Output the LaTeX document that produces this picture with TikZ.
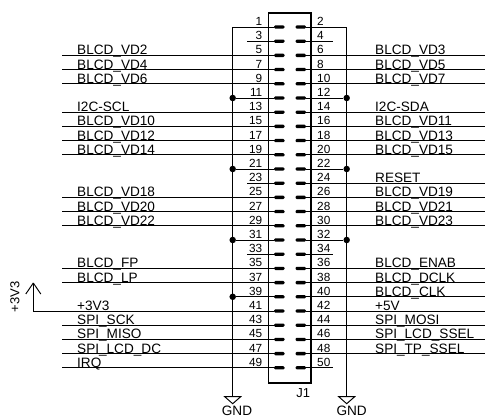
\documentclass[tikz,border=0pt]{standalone}
\usepackage{fontspec}
\setmainfont{Liberation Sans}
\tikzset{
  pad/.style={fill=black,rectangle,rounded corners=1.2pt,inner sep=0pt,minimum width=10.4pt,minimum height=3.3pt},
  numl/.style={anchor=base east,inner sep=0pt,yshift=-0.5pt,xshift=-0.5pt,font=\fontsize{11.8}{12}\selectfont},
  numr/.style={anchor=base west,inner sep=0pt,yshift=-0.5pt,font=\fontsize{11.8}{12}\selectfont},
  netname/.style={anchor=base west,inner sep=0pt,yshift=-0.5pt,font=\fontsize{13.6}{14}\selectfont},
  dot/.style={circle,fill=black,inner sep=0pt,minimum size=6.5pt},
  wire/.style={line width=0.95pt}
}
\begin{document}
\begin{tikzpicture}[x=1pt,y=-1pt]
      \useasboundingbox (0,0) rectangle (485,417);
      % pads and pin numbers
      \draw
        (279.3,27.0) node[pad] (p1){} (263,25.0) node[numl] (n1){1}
        (279.3,41.2) node[pad] (p3){} (263,39.2) node[numl] (n3){3}
        (279.3,55.4) node[pad] (p5){} (263,53.4) node[numl] (n5){5}
        (279.3,69.6) node[pad] (p7){} (263,67.6) node[numl] (n7){7}
        (279.3,83.8) node[pad] (p9){} (263,81.8) node[numl] (n9){9}
        (279.3,98.0) node[pad] (p11){} (263,96.0) node[numl] (n11){11}
        (279.3,112.2) node[pad] (p13){} (263,110.2) node[numl] (n13){13}
        (279.3,126.4) node[pad] (p15){} (263,124.4) node[numl] (n15){15}
        (279.3,140.6) node[pad] (p17){} (263,138.6) node[numl] (n17){17}
        (279.3,154.8) node[pad] (p19){} (263,152.8) node[numl] (n19){19}
        (279.3,169.0) node[pad] (p21){} (263,167.0) node[numl] (n21){21}
        (279.3,183.2) node[pad] (p23){} (263,181.2) node[numl] (n23){23}
        (279.3,197.4) node[pad] (p25){} (263,195.4) node[numl] (n25){25}
        (279.3,211.6) node[pad] (p27){} (263,209.6) node[numl] (n27){27}
        (279.3,225.8) node[pad] (p29){} (263,223.8) node[numl] (n29){29}
        (279.3,240.0) node[pad] (p31){} (263,238.0) node[numl] (n31){31}
        (279.3,254.2) node[pad] (p33){} (263,252.2) node[numl] (n33){33}
        (279.3,268.4) node[pad] (p35){} (263,266.4) node[numl] (n35){35}
        (279.3,282.6) node[pad] (p37){} (263,280.6) node[numl] (n37){37}
        (279.3,296.8) node[pad] (p39){} (263,294.8) node[numl] (n39){39}
        (279.3,311.0) node[pad] (p41){} (263,309.0) node[numl] (n41){41}
        (279.3,325.2) node[pad] (p43){} (263,323.2) node[numl] (n43){43}
        (279.3,339.4) node[pad] (p45){} (263,337.4) node[numl] (n45){45}
        (279.3,353.6) node[pad] (p47){} (263,351.6) node[numl] (n47){47}
        (279.3,367.8) node[pad] (p49){} (263,365.8) node[numl] (n49){49}
        (300.7,27.0) node[pad] (p2){} (317,25.0) node[numr] (n2){2}
        (300.7,41.2) node[pad] (p4){} (317,39.2) node[numr] (n4){4}
        (300.7,55.4) node[pad] (p6){} (317,53.4) node[numr] (n6){6}
        (300.7,69.6) node[pad] (p8){} (317,67.6) node[numr] (n8){8}
        (300.7,83.8) node[pad] (p10){} (317,81.8) node[numr] (n10){10}
        (300.7,98.0) node[pad] (p12){} (317,96.0) node[numr] (n12){12}
        (300.7,112.2) node[pad] (p14){} (317,110.2) node[numr] (n14){14}
        (300.7,126.4) node[pad] (p16){} (317,124.4) node[numr] (n16){16}
        (300.7,140.6) node[pad] (p18){} (317,138.6) node[numr] (n18){18}
        (300.7,154.8) node[pad] (p20){} (317,152.8) node[numr] (n20){20}
        (300.7,169.0) node[pad] (p22){} (317,167.0) node[numr] (n22){22}
        (300.7,183.2) node[pad] (p24){} (317,181.2) node[numr] (n24){24}
        (300.7,197.4) node[pad] (p26){} (317,195.4) node[numr] (n26){26}
        (300.7,211.6) node[pad] (p28){} (317,209.6) node[numr] (n28){28}
        (300.7,225.8) node[pad] (p30){} (317,223.8) node[numr] (n30){30}
        (300.7,240.0) node[pad] (p32){} (317,238.0) node[numr] (n32){32}
        (300.7,254.2) node[pad] (p34){} (317,252.2) node[numr] (n34){34}
        (300.7,268.4) node[pad] (p36){} (317,266.4) node[numr] (n36){36}
        (300.7,282.6) node[pad] (p38){} (317,280.6) node[numr] (n38){38}
        (300.7,296.8) node[pad] (p40){} (317,294.8) node[numr] (n40){40}
        (300.7,311.0) node[pad] (p42){} (317,309.0) node[numr] (n42){42}
        (300.7,325.2) node[pad] (p44){} (317,323.2) node[numr] (n44){44}
        (300.7,339.4) node[pad] (p46){} (317,337.4) node[numr] (n46){46}
        (300.7,353.6) node[pad] (p48){} (317,351.6) node[numr] (n48){48}
        (300.7,367.8) node[pad] (p50){} (317,365.8) node[numr] (n50){50};
      \node[draw,line width=1.8pt,minimum width=42.7pt,minimum height=370pt,inner sep=0pt] (J) at (289.9,198) {};
      \node[netname,anchor=center,font=\fontsize{13}{14}\selectfont] (J1) at (303.3,393) {J1};
      % net names and free wire ends
      \draw
        (77,54.4) node[netname] (vd2){BLCD\_VD2} (62,55.4) coordinate (e5)
        (77,68.6) node[netname] (vd4){BLCD\_VD4} (62,69.6) coordinate (e7)
        (77,82.8) node[netname] (vd6){BLCD\_VD6} (62,83.8) coordinate (e9)
        (77,111.2) node[netname] (scl){I2C-SCL} (62,112.2) coordinate (e13)
        (77,125.4) node[netname] (vd10){BLCD\_VD10} (62,126.4) coordinate (e15)
        (77,139.6) node[netname] (vd12){BLCD\_VD12} (62,140.6) coordinate (e17)
        (77,153.8) node[netname] (vd14){BLCD\_VD14} (62,154.8) coordinate (e19)
        (77,196.4) node[netname] (vd18){BLCD\_VD18} (62,197.4) coordinate (e25)
        (77,210.6) node[netname] (vd20){BLCD\_VD20} (62,211.6) coordinate (e27)
        (77,224.8) node[netname] (vd22){BLCD\_VD22} (62,225.8) coordinate (e29)
        (77,267.4) node[netname] (fp){BLCD\_FP} (62,268.4) coordinate (e35)
        (77,281.6) node[netname] (lp){BLCD\_LP} (62,282.6) coordinate (e37)
        (77,310.0) node[netname] (v33){+3V3} (33.3,311.0) coordinate (e41)
        (77,324.2) node[netname] (sck){SPI\_SCK} (62,325.2) coordinate (e43)
        (77,338.4) node[netname] (miso){SPI\_MISO} (62,339.4) coordinate (e45)
        (77,352.6) node[netname] (lcddc){SPI\_LCD\_DC} (62,353.6) coordinate (e47)
        (77,366.8) node[netname] (irq){IRQ} (62,367.8) coordinate (e49)
        (375,54.4) node[netname] (vd3){BLCD\_VD3} (485,55.4) coordinate (e6)
        (375,68.6) node[netname] (vd5){BLCD\_VD5} (485,69.6) coordinate (e8)
        (375,82.8) node[netname] (vd7){BLCD\_VD7} (485,83.8) coordinate (e10)
        (375,111.2) node[netname] (sda){I2C-SDA} (485,112.2) coordinate (e14)
        (375,125.4) node[netname] (vd11){BLCD\_VD11} (485,126.4) coordinate (e16)
        (375,139.6) node[netname] (vd13){BLCD\_VD13} (485,140.6) coordinate (e18)
        (375,153.8) node[netname] (vd15){BLCD\_VD15} (485,154.8) coordinate (e20)
        (375,182.2) node[netname] (reset){RESET} (485,183.2) coordinate (e24)
        (375,196.4) node[netname] (vd19){BLCD\_VD19} (485,197.4) coordinate (e26)
        (375,210.6) node[netname] (vd21){BLCD\_VD21} (485,211.6) coordinate (e28)
        (375,224.8) node[netname] (vd23){BLCD\_VD23} (485,225.8) coordinate (e30)
        (375,267.4) node[netname] (enab){BLCD\_ENAB} (485,268.4) coordinate (e36)
        (375,281.6) node[netname] (dclk){BLCD\_DCLK} (485,282.6) coordinate (e38)
        (375,295.8) node[netname] (clk){BLCD\_CLK} (485,296.8) coordinate (e40)
        (375,310.0) node[netname] (v5){+5V} (485,311.0) coordinate (e42)
        (375,324.2) node[netname] (mosi){SPI\_MOSI} (485,325.2) coordinate (e44)
        (375,338.4) node[netname] (lcdssel){SPI\_LCD\_SSEL} (485,339.4) coordinate (e46)
        (375,352.6) node[netname] (tpssel){SPI\_TP\_SSEL} (485,353.6) coordinate (e48);
      % stubs of the open pins
      \draw
        (246.7,41.2) coordinate (e3)
        (246.7,183.2) coordinate (e23)
        (246.7,254.2) coordinate (e33)
        (332.7,41.2) coordinate (e4)
        (332.7,254.2) coordinate (e34)
        (332.7,367.8) coordinate (e50);
      % ground rails
      \draw
        (232.7,27.0) coordinate (top1)
        (346.7,27.0) coordinate (top2)
        (232.7,98.0) node[dot] (d11){}
        (232.7,169.0) node[dot] (d21){}
        (232.7,240.0) node[dot] (d31){}
        (232.7,296.8) node[dot] (d39){}
        (346.7,98.0) node[dot] (d12){}
        (346.7,169.0) node[dot] (d22){}
        (346.7,240.0) node[dot] (d32){}
        (232.7,396.7) coordinate (g1)
        (346.7,396.7) coordinate (g2)
        (237,410) node[netname,anchor=center] (gnd1){GND}
        (351.7,410) node[netname,anchor=center] (gnd2){GND};
      \begin{scope}[wire]
        \draw (p1) -- (top1) -- (g1);
        \draw (p2) -- (top2) -- (g2);
        \draw (p11) -- (d11);
        \draw (p21) -- (d21);
        \draw (p31) -- (d31);
        \draw (p39) -- (d39);
        \draw (p12) -- (d12);
        \draw (p22) -- (d22);
        \draw (p32) -- (d32);
        \draw (p3) -- (e3);
        \draw (p23) -- (e23);
        \draw (p33) -- (e33);
        \draw (p4) -- (e4);
        \draw (p34) -- (e34);
        \draw (p50) -- (e50);
        \draw (p5) -- (e5);
        \draw (p7) -- (e7);
        \draw (p9) -- (e9);
        \draw (p13) -- (e13);
        \draw (p15) -- (e15);
        \draw (p17) -- (e17);
        \draw (p19) -- (e19);
        \draw (p25) -- (e25);
        \draw (p27) -- (e27);
        \draw (p29) -- (e29);
        \draw (p35) -- (e35);
        \draw (p37) -- (e37);
        \draw (p43) -- (e43);
        \draw (p45) -- (e45);
        \draw (p47) -- (e47);
        \draw (p49) -- (e49);
        \draw (p6) -- (e6);
        \draw (p8) -- (e8);
        \draw (p10) -- (e10);
        \draw (p14) -- (e14);
        \draw (p16) -- (e16);
        \draw (p18) -- (e18);
        \draw (p20) -- (e20);
        \draw (p24) -- (e24);
        \draw (p26) -- (e26);
        \draw (p28) -- (e28);
        \draw (p30) -- (e30);
        \draw (p36) -- (e36);
        \draw (p38) -- (e38);
        \draw (p40) -- (e40);
        \draw (p42) -- (e42);
        \draw (p44) -- (e44);
        \draw (p46) -- (e46);
        \draw (p48) -- (e48);
        % supply arrow and ground symbols
        \coordinate (tip) at (33.3,283);
        \draw (p41) -- (e41) -- (tip);
        \draw (tip) -- ++(-7.5,11);
        \draw (tip) -- ++(7.5,11);
        \draw (g1) ++(-8,0) -- ++(16,0) -- ++(-8,7) -- cycle;
        \draw (g2) ++(-8,0) -- ++(16,0) -- ++(-8,7) -- cycle;
      \end{scope}
      \node[netname,anchor=center,rotate=90,font=\fontsize{13}{14}\selectfont] (v33r) at (15,296.5) {+3V3};
    \end{tikzpicture}
\end{document}
